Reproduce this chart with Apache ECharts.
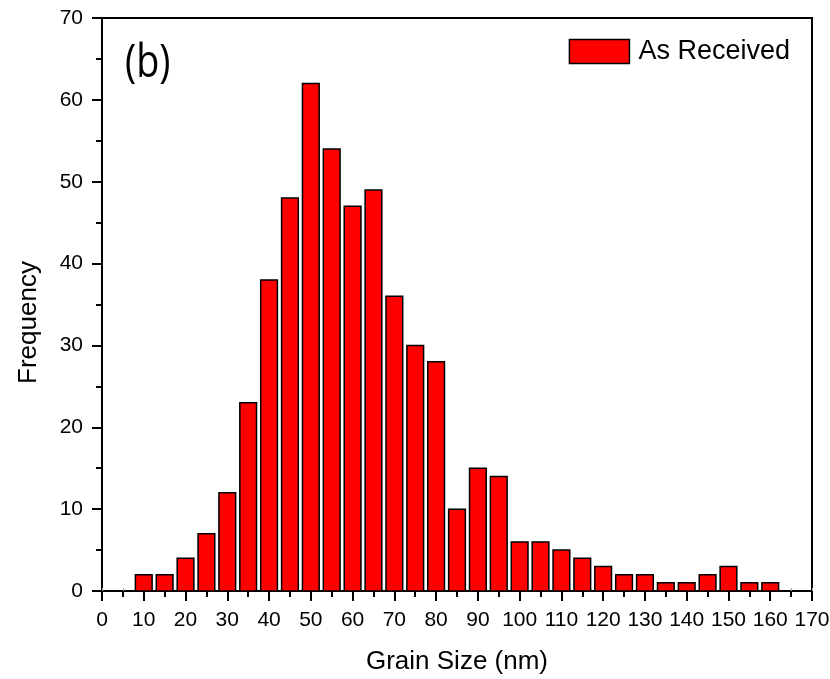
<!DOCTYPE html>
<html>
<head>
<meta charset="utf-8">
<script src="https://cdn.jsdelivr.net/npm/echarts@6/dist/echarts.min.js"></script>
<style>html,body{margin:0;padding:0;background:#fff}#c{width:830px;height:679px}</style>
</head>
<body>
<div id="c"></div>
<script>
const binCenters = [10,15,20,25,30,35,40,45,50,55,60,65,70,75,80,85,90,95,100,105,110,115,120,125,130,135,140,145,150,155,160];
const frequency = [2,2,4,7,12,23,38,48,62,54,47,49,36,30,28,10,15,14,6,6,5,4,3,2,2,1,1,2,3,1,1];
const binWidth = 4;
const seriesName = 'As Received';

const chart = echarts.init(document.getElementById('c'), null, {renderer:'canvas'});
const font = 'Liberation Sans, Arial, sans-serif';
const data = binCenters.map((x,i)=>[x, frequency[i]]);

chart.setOption({
  animation:false,
  backgroundColor:'#fff',
  grid:{left:102, right:18, top:18, bottom:88, show:true, borderColor:'#000', borderWidth:2, backgroundColor:'transparent', outerBoundsMode:'none', containLabel:false},
  legend:{
    show:true, right:35, top:33, itemWidth:60, itemHeight:24, itemGap:10,
    textStyle:{fontFamily:font, fontSize:27, color:'#000', padding:[0,0,0,4]},
    data:[{name:seriesName, icon:'rect', itemStyle:{color:'#ff0000', borderColor:'#000', borderWidth:1.5}}]
  },
  graphic:[{type:'text', x:125, y:42, scaleX:0.84, style:{text:'(b)', font:'45px "Open Sans", sans-serif', fill:'#000'}}],
  xAxis:[{
    type:'value', min:0, max:170, interval:10,
    name:'Grain Size (nm)', nameLocation:'middle', nameGap:58,
    nameTextStyle:{fontFamily:font, fontSize:26, color:'#000'},
    axisLine:{show:true, onZero:false, lineStyle:{color:'#000', width:2}},
    axisTick:{show:true, inside:false, length:10, lineStyle:{color:'#000', width:2}},
    minorTick:{show:true, splitNumber:2, length:6, lineStyle:{color:'#000', width:2}},
    axisLabel:{fontFamily:font, fontSize:21, color:'#000', margin:19},
    splitLine:{show:false}
  },{
    type:'value', position:'top', min:0, max:170, interval:10,
    axisLine:{show:false},
    axisTick:{show:true, length:3, lineStyle:{color:'#aaa', width:1}},
    minorTick:{show:true, splitNumber:2, length:3, lineStyle:{color:'#aaa', width:1}},
    axisLabel:{show:false}, splitLine:{show:false}
  }],
  yAxis:{
    type:'value', min:0, max:70, interval:10,
    name:'Frequency', nameLocation:'middle', nameGap:60,
    nameTextStyle:{fontFamily:font, fontSize:26, color:'#000', padding:[0,36,0,0]},
    axisLine:{show:true, lineStyle:{color:'#000', width:2}},
    axisTick:{show:true, inside:false, length:10, lineStyle:{color:'#000', width:2}},
    minorTick:{show:true, splitNumber:2, length:6, lineStyle:{color:'#000', width:2}},
    axisLabel:{fontFamily:font, fontSize:21, color:'#000', margin:19},
    splitLine:{show:false}
  },
  series:[{
    name:seriesName, type:'custom', xAxisIndex:0,
    itemStyle:{color:'#ff0000', borderColor:'#000', borderWidth:1.5},
    renderItem:function(params, api){
      const x = api.value(0), y = api.value(1);
      const p0 = api.coord([x - binWidth/2, y]);
      const p1 = api.coord([x + binWidth/2, 0]);
      return {type:'rect', shape:{x:p0[0], y:p0[1], width:p1[0]-p0[0], height:p1[1]-p0[1]},
        style:{fill:'#ff0000', stroke:'#000', lineWidth:1.5}};
    },
    encode:{x:0, y:1},
    data:data
  }]
});
</script>
</body>
</html>
